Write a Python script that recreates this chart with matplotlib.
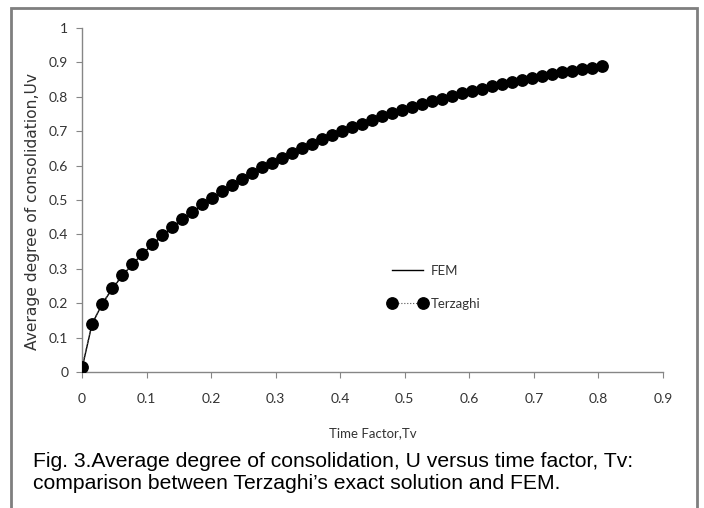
import matplotlib.pyplot as plt
from matplotlib.patches import Rectangle

# Time factor Tv (53 points, ~0.0155 apart)
tv = [0.0, 0.0155, 0.031, 0.0465, 0.062, 0.0775, 0.093, 0.1085, 0.124, 0.1395,
      0.155, 0.1705, 0.186, 0.2015, 0.217, 0.2325, 0.248, 0.2635, 0.279, 0.2945,
      0.31, 0.3255, 0.341, 0.3565, 0.372, 0.3875, 0.403, 0.4185, 0.434, 0.4495,
      0.465, 0.4805, 0.496, 0.5115, 0.527, 0.5425, 0.558, 0.5735, 0.589, 0.6045,
      0.62, 0.6355, 0.651, 0.6665, 0.682, 0.6975, 0.713, 0.7285, 0.744, 0.7595,
      0.775, 0.7905, 0.806]

u_terzaghi = [0.015, 0.141, 0.199, 0.243, 0.281, 0.314, 0.344, 0.372, 0.397, 0.422,
              0.444, 0.466, 0.487, 0.507, 0.526, 0.544, 0.562, 0.579, 0.596, 0.608,
              0.623, 0.637, 0.651, 0.664, 0.676, 0.688, 0.700, 0.711, 0.722, 0.733,
              0.743, 0.752, 0.762, 0.771, 0.779, 0.787, 0.795, 0.803, 0.811, 0.818,
              0.824, 0.831, 0.837, 0.844, 0.849, 0.855, 0.860, 0.866, 0.871, 0.876,
              0.880, 0.885, 0.889]

u_fem = [0.010, 0.139, 0.197, 0.241, 0.279, 0.312, 0.342, 0.370, 0.395, 0.420,
         0.442, 0.464, 0.485, 0.505, 0.524, 0.542, 0.560, 0.577, 0.594, 0.606,
         0.621, 0.635, 0.649, 0.662, 0.674, 0.686, 0.698, 0.709, 0.720, 0.731,
         0.741, 0.750, 0.760, 0.769, 0.777, 0.785, 0.793, 0.801, 0.809, 0.816,
         0.822, 0.829, 0.835, 0.842, 0.847, 0.853, 0.858, 0.864, 0.869, 0.874,
         0.878, 0.883, 0.887]

x_ticks = [0, 0.1, 0.2, 0.3, 0.4, 0.5, 0.6, 0.7, 0.8, 0.9]
x_labels = ['0', '0.1', '0.2', '0.3', '0.4', '0.5', '0.6', '0.7', '0.8', '0.9']
y_ticks = [0, 0.1, 0.2, 0.3, 0.4, 0.5, 0.6, 0.7, 0.8, 0.9, 1]
y_labels = ['0', '0.1', '0.2', '0.3', '0.4', '0.5', '0.6', '0.7', '0.8', '0.9', '1']

caption_1 = "Fig. 3.Average degree of consolidation, U versus time factor, Tv:"
caption_2 = "comparison between Terzaghi\u2019s exact solution and FEM."

W, H = 704, 508
fig = plt.figure(figsize=(W / 100, H / 100), dpi=100)
ax = fig.add_axes([0.1165, 0.2677, 0.8253, 0.6772])

# outer gray frame round the figure
fig.patches.append(Rectangle((11 / W, -0.05), 686 / W, 1.05 - 8 / H,
                             transform=fig.transFigure, fill=False,
                             edgecolor='#7f7f7f', linewidth=2))

ax.plot(tv, u_fem, color='black', linewidth=1.0, label='FEM', zorder=2)
ax.plot(tv, u_terzaghi, color='#555555', linestyle=':', linewidth=0.8,
        marker='o', markersize=8.2, markerfacecolor='black',
        markeredgecolor='black', label='Terzaghi', zorder=3)

ax.set_xlim(0, 0.9)
ax.set_ylim(0, 1)
ax.set_xticks(x_ticks)
ax.set_xticklabels(x_labels)
ax.set_yticks(y_ticks)
ax.set_yticklabels(y_labels)

for side in ['top', 'right']:
    ax.spines[side].set_visible(False)
for side in ['left', 'bottom']:
    ax.spines[side].set_color('#868686')
    ax.spines[side].set_linewidth(1.0)

ax.tick_params(axis='both', direction='out', length=4, color='#868686',
               labelcolor='#333333', labelsize=10)
ax.tick_params(axis='y', pad=6)
ax.tick_params(axis='x', pad=11)
for lab in ax.get_xticklabels() + ax.get_yticklabels():
    lab.set_fontfamily('Lato')

ax.set_xlabel('Time Factor,Tv', fontfamily='Lato', fontsize=9.5, color='#333333')
ax.set_ylabel('Average degree of consolidation,Uv', fontfamily='DejaVu Sans',
              fontsize=11.2, color='#333333')
ax.xaxis.set_label_coords(0.5, -0.16)
ax.yaxis.set_label_coords(-0.072, 0.467)

leg = ax.legend(loc='upper left', bbox_to_anchor=(0.527, 0.312), frameon=False,
                borderaxespad=0, borderpad=0, handlelength=2.9, numpoints=2,
                handletextpad=0.3, labelspacing=1.6,
                prop={'family': 'Lato', 'size': 9.5})
for t in leg.get_texts():
    t.set_color('#333333')

cap_font = dict(fontfamily='Liberation Sans', fontsize=15.2, color='black',
                va='baseline', ha='left')
fig.text(33 / W, 1 - 467 / H, caption_1, **cap_font)
fig.text(33 / W, 1 - 489 / H, caption_2, **cap_font)

fig.savefig('out.png', dpi=100)
